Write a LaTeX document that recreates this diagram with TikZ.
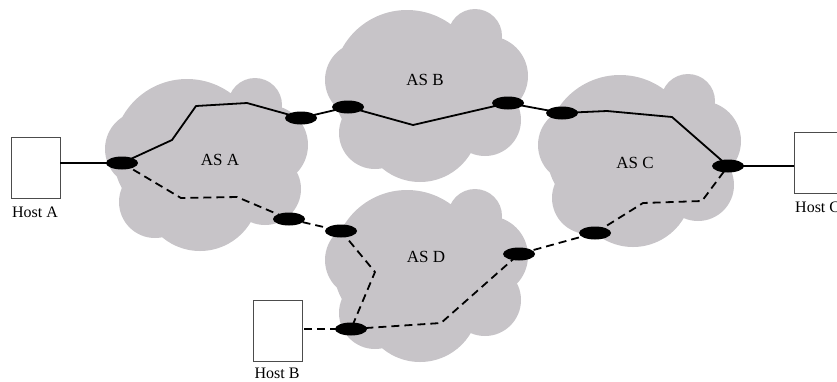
\documentclass[tikz,border=0pt]{standalone}
\usepackage{fontspec}
\setmainfont{Liberation Serif}
\usetikzlibrary{shapes.geometric}
\definecolor{cloudgray}{RGB}{199,196,200}
% one autonomous-system cloud, drawn from its top-left corner (#1,#2)
\newcommand\ascloud[2]{%
  \begin{scope}[shift={(#1,#2)}]
    \fill[cloudgray]
      (38,72) circle (38pt)
      (82,76) circle (74pt)
      (150,28) circle (27pt)
      (163,68) circle (40pt)
      (160,112) circle (36pt)
      (95,115) circle (59pt)
      (50,125) circle (36pt)
      (100,85) circle (55pt);
  \end{scope}}
\begin{document}
\begin{tikzpicture}[x=1pt,y=-1pt,
  router/.style={ellipse, fill=black, minimum width=32pt, minimum height=13pt, inner sep=0pt},
  host/.style={draw=black!70, fill=white, line width=0.8pt, minimum width=49pt, minimum height=61pt, inner sep=0pt},
  hostlabel/.style={font=\fontsize{16}{18}\selectfont, inner sep=0pt},
  aslabel/.style={font=\fontsize{17}{19}\selectfont, inner sep=0pt},
  link/.style={line width=1.8pt, line join=round},
  backup/.style={link, dash pattern=on 8pt off 5pt}]
\useasboundingbox (0,0) rectangle (837,381);
\clip (0,0) rectangle (837,381);

% clouds
\ascloud{105}{77}
\ascloud{325}{8}
\ascloud{538}{73}
\ascloud{325}{188}

\node[aslabel] (asA) at (220,160) {AS A};
\node[aslabel] (asB) at (425,80) {AS B};
\node[aslabel] (asC) at (635,163) {AS C};
\node[aslabel] (asD) at (426,257) {AS D};

% hosts
\node[host] (hostA) at (35.5,167.5) {};
\node[host] (hostB) at (277.5,330.5) {};
\node[host] (hostC) at (818.5,162.5) {};
\node[hostlabel] (labA) at (35,212) {Host A};
\node[hostlabel] (labB) at (277,373) {Host B};
\node[hostlabel, anchor=west] (labC) at (795,207) {Host C};

% routers
\coordinate (r1) at (122,163);
\coordinate (r2) at (301,118);
\coordinate (r3) at (348,107);
\coordinate (r4) at (508,103);
\coordinate (r5) at (562,113);
\coordinate (r6) at (728,166);
\coordinate (r7) at (289,219);
\coordinate (r8) at (341,231);
\coordinate (r9) at (519,254);
\coordinate (r10) at (595,233);
\coordinate (r11) at (351,329);

% primary path
\draw[link] (r1) -- (172,140) -- (196,106) -- (247,103) -- (r2) -- (r3)
  -- (413,125) -- (r4) -- (r5) -- (607,111) -- (672,117) -- (r6);
\draw[link] (r1) -- (r1 -| hostA.east);
\draw[link] (r6) -- (r6 -| hostC.west);

% alternative path
\draw[backup] (r1) -- (181,198) -- (237,197) -- (r7) -- (r8) -- (375,272)
  -- (r11) -- (441,323) -- (r9) -- (r10) -- (643,203) -- (702,201) -- (r6);
\draw[backup] (r11) -- (r11 -| hostB.east);

\foreach \r in {r1,r2,r3,r4,r5,r6,r7,r8,r9,r10,r11}
  \node[router] (n\r) at (\r) {};
\end{tikzpicture}
\end{document}
